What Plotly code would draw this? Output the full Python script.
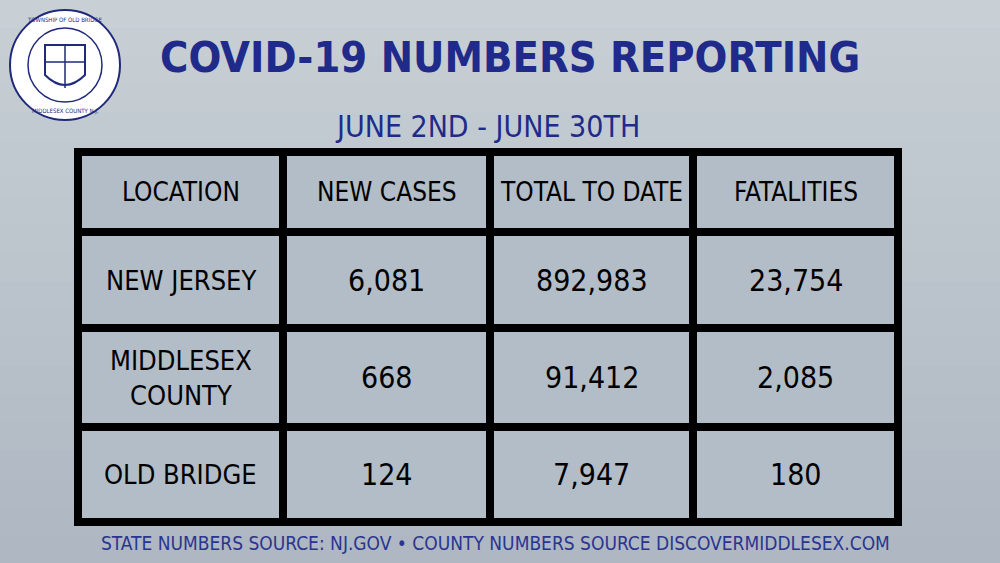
import plotly.graph_objects as go

title = "COVID-19 NUMBERS REPORTING"
subtitle = "JUNE 2ND - JUNE 30TH"
footer = "STATE NUMBERS SOURCE: NJ.GOV • COUNTY NUMBERS SOURCE DISCOVERMIDDLESEX.COM"
headers = ["LOCATION", "NEW CASES", "TOTAL TO DATE", "FATALITIES"]
locations = ["NEW JERSEY", "MIDDLESEX<br>COUNTY", "OLD BRIDGE"]
new_cases = ["6,081", "668", "124"]
total_to_date = ["892,983", "91,412", "7,947"]
fatalities = ["23,754", "2,085", "180"]

col_edges = [78, 283, 490, 693, 898]
row_edges = [152, 232, 328, 427, 522]

fig = go.Figure()
shapes = []
for i in range(20):
    t = i / 19
    r = int(200 - 25 * t); g = int(208 - 25 * t); b = int(214 - 20 * t)
    shapes.append(dict(type="rect", x0=0, x1=1000, y0=i * 563 / 20, y1=(i + 1) * 563 / 20 + 1,
                       fillcolor=f"rgb({r},{g},{b})", line=dict(width=0), layer="below"))
shapes.append(dict(type="rect", x0=col_edges[0], x1=col_edges[-1], y0=row_edges[0], y1=row_edges[-1],
                   fillcolor="#b3bdc7", line=dict(color="black", width=8)))
for x in col_edges[1:-1]:
    shapes.append(dict(type="line", x0=x, x1=x, y0=row_edges[0], y1=row_edges[-1], line=dict(color="black", width=8)))
for y in row_edges[1:-1]:
    shapes.append(dict(type="line", x0=col_edges[0], x1=col_edges[-1], y0=y, y1=y, line=dict(color="black", width=8)))
# logo
shapes.append(dict(type="circle", x0=10, x1=120, y0=10, y1=120, fillcolor="white", line=dict(color="#1f2a7a", width=2)))
shapes.append(dict(type="circle", x0=28, x1=102, y0=28, y1=102, fillcolor="white", line=dict(color="#1f2a7a", width=1.5)))
shapes.append(dict(type="path", path="M 45 45 L 85 45 L 85 75 Q 65 95 45 75 Z", fillcolor="white", line=dict(color="#1f2a7a", width=2)))
shapes.append(dict(type="line", x0=65, x1=65, y0=45, y1=88, line=dict(color="#1f2a7a", width=1.5)))
shapes.append(dict(type="line", x0=45, x1=85, y0=62, y1=62, line=dict(color="#1f2a7a", width=1.5)))

ann = []
F = "DejaVu Sans Condensed"
ann.append(dict(x=510, y=57, text="<b>" + title + "</b>", font=dict(family=F, size=43, color="#1f2a8a")))
ann.append(dict(x=487, y=126, text=subtitle, font=dict(family=F, size=30, color="#1f2a8a")))
ann.append(dict(x=495, y=543, text=footer, font=dict(family=F, size=19, color="#2a3590")))
ann.append(dict(x=65, y=19, text="TOWNSHIP OF OLD BRIDGE", font=dict(family=F, size=6, color="#1f2a7a")))
ann.append(dict(x=65, y=111, text="MIDDLESEX COUNTY N.J.", font=dict(family=F, size=6, color="#1f2a7a")))

cols = [locations, new_cases, total_to_date, fatalities]
for c, h in enumerate(headers):
    cx = (col_edges[c] + col_edges[c + 1]) / 2
    ann.append(dict(x=cx, y=(row_edges[0] + row_edges[1]) / 2, text=h, font=dict(family=F, size=26, color="black")))
    for r, v in enumerate(cols[c]):
        cy = (row_edges[r + 1] + row_edges[r + 2]) / 2
        ann.append(dict(x=cx, y=cy, text=v, font=dict(family=F, size=30 if c else 27, color="black")))
for a in ann:
    a.update(xref="x", yref="y", showarrow=False, xanchor="center", yanchor="middle")

fig.update_layout(width=1000, height=563, margin=dict(l=0, r=0, t=0, b=0),
                  paper_bgcolor="#b8c2cc", plot_bgcolor="rgba(0,0,0,0)",
                  xaxis=dict(range=[0, 1000], visible=False, fixedrange=True),
                  yaxis=dict(range=[563, 0], visible=False, fixedrange=True),
                  shapes=shapes, annotations=ann, showlegend=False)
fig.write_html("out.html", config={"displayModeBar": False},
               post_script="document.body.style.margin='0';document.body.style.overflow='hidden';")
